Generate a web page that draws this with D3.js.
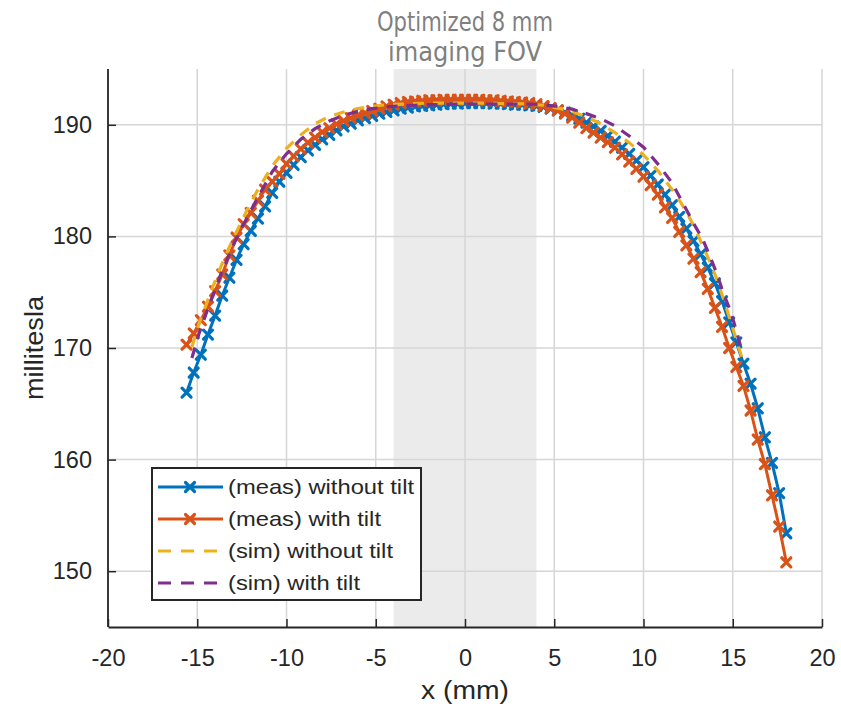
<!DOCTYPE html>
<html><head><meta charset="utf-8">
<script src="https://cdn.jsdelivr.net/npm/d3@7"></script>
<style>body{margin:0;background:#fff}svg{display:block}</style>
</head><body><div id="chart"></div>
<script>
// ---- data ----
const xMeas = [-15.6,-15.2,-14.8,-14.4,-14.0,-13.6,-13.2,-12.8,-12.4,-12.0,
  -11.6,-11.2,-10.8,-10.4,-10.0,-9.6,-9.2,-8.8,-8.4,-8.0,
  -7.6,-7.2,-6.8,-6.4,-6.0,-5.6,-5.2,-4.8,-4.4,-4.0,
  -3.6,-3.2,-2.8,-2.4,-2.0,-1.6,-1.2,-0.8,-0.4,0.0,
  0.4,0.8,1.2,1.6,2.0,2.4,2.8,3.2,3.6,4.0,
  4.4,4.8,5.2,5.6,6.0,6.4,6.8,7.2,7.6,8.0,
  8.4,8.8,9.2,9.6,10.0,10.4,10.8,11.2,11.6,12.0,
  12.4,12.8,13.2,13.6,14.0,14.4,14.8,15.2,15.6,16.0,
  16.4,16.8,17.2,17.6,18.0];
const measWithoutTilt = [166.0,167.8,169.4,171.2,172.9,174.7,176.3,177.9,179.3,180.5,
  181.6,182.7,183.9,184.9,185.7,186.4,187.1,187.7,188.2,188.7,
  189.1,189.5,189.85,190.1,190.4,190.6,190.8,191.0,191.15,191.3,
  191.45,191.55,191.65,191.7,191.75,191.8,191.85,191.9,191.9,191.95,
  191.95,191.95,191.95,191.9,191.9,191.85,191.8,191.8,191.75,191.7,
  191.6,191.45,191.3,191.1,190.85,190.55,190.2,189.85,189.45,189.0,
  188.5,187.95,187.4,186.8,186.2,185.45,184.65,183.75,182.8,181.75,
  180.7,179.6,178.4,177.2,175.8,174.2,172.3,170.5,168.6,166.8,
  164.6,162.0,159.7,157.0,153.4];
const measWithTilt = [170.3,171.3,172.5,173.7,175.1,176.6,178.3,179.9,181.1,182.1,
  183.2,184.2,184.9,185.6,186.5,187.2,187.85,188.4,188.85,189.35,
  189.7,190.05,190.35,190.6,190.85,191.05,191.25,191.45,191.65,191.8,
  191.95,192.05,192.1,192.15,192.2,192.2,192.25,192.25,192.25,192.25,
  192.25,192.25,192.2,192.2,192.15,192.1,192.05,192.0,191.95,191.85,
  191.7,191.5,191.3,191.0,190.65,190.2,189.7,189.3,188.85,188.45,
  187.95,187.35,186.7,186.05,185.35,184.6,183.75,182.6,181.65,180.4,
  179.2,178.0,176.8,175.3,173.6,171.9,170.0,168.3,166.6,164.4,
  161.8,159.6,156.8,154.0,150.8];
const xSim = [-15.3,-14.9,-14.5,-14.1,-13.7,-13.3,-12.9,-12.5,-12.1,
  -11.6,-10.8,-10.0,-9.2,-8.4,-7.6,-6.8,-6.0,-5.2,-4.4,-3.6,-2.8,-2.0,-1.2,-0.4,
  0.4,1.2,2.0,2.8,3.6,4.4,5.2,6.0,6.8,7.6,8.4,9.2,10.0,10.8,11.6,
  12.1,12.5,12.9,13.3,13.7,14.1,14.5,14.9,15.3,15.5];
const simWithoutTilt = [170.1,172.2,173.9,175.6,177.2,178.7,180.1,181.4,182.7,
  184.2,186.3,187.9,189.1,190.1,190.75,191.15,191.45,191.65,191.8,191.85,191.9,191.95,191.95,191.95,
  191.95,191.95,191.9,191.9,191.85,191.75,191.5,191.2,190.7,190.1,189.3,188.4,187.3,185.9,184.2,
  183.0,181.9,180.7,179.2,177.8,176.2,174.3,172.3,170.2,169.2];
const simWithTilt = [169.1,171.3,173.1,174.8,176.5,178.0,179.5,180.8,182.0,
  183.5,185.8,187.4,188.7,189.65,190.35,190.85,191.2,191.45,191.6,191.7,191.75,191.8,191.8,191.85,
  191.85,191.85,191.85,191.85,191.85,191.8,191.65,191.4,191.0,190.55,189.9,189.0,188.0,186.5,184.8,
  183.3,182.1,180.9,179.8,178.3,176.7,174.8,173.2,171.0,169.8];
const seriesNames = ["(meas) without tilt","(meas) with tilt","(sim) without tilt","(sim) with tilt"];
const seriesColors = ["#0072BD","#D95319","#EDB120","#7E2F8E"];
const xTicks = [-20,-15,-10,-5,0,5,10,15,20];
const yTicks = [150,160,170,180,190];
const fovRange = [-4,4];
const annotationLines = ["Optimized 8 mm","imaging FOV"];
const xLabel = "x (mm)";
const yLabel = "millitesla";

// ---- layout ----
const W = 841, H = 709;
const L = 108, T = 69, R = 822, B = 627;
const svg = d3.select("#chart").append("svg").attr("width", W).attr("height", H);
const x = d3.scaleLinear().domain([-20,20]).range([L,R]);
const y = d3.scaleLinear().domain([145,195]).range([B,T]);
const font = "Liberation Sans, Arial, Helvetica, sans-serif";
const ink = "#262626";

// shaded FOV
svg.append("rect").attr("x", x(fovRange[0])).attr("y", T)
  .attr("width", x(fovRange[1]) - x(fovRange[0])).attr("height", B - T)
  .attr("fill", "#ebebeb");

// grid
const grid = svg.append("g").attr("stroke", "#d6d6d6").attr("stroke-width", 1.5);
xTicks.forEach(t => grid.append("line").attr("x1", x(t)).attr("x2", x(t)).attr("y1", T).attr("y2", B));
yTicks.forEach(t => grid.append("line").attr("x1", L).attr("x2", R).attr("y1", y(t)).attr("y2", y(t)));

// axes
const fmt = d => String(d);
const xAxis = d3.axisBottom(x).tickValues(xTicks).tickFormat(fmt).tickSizeInner(-8).tickSizeOuter(0).tickPadding(22);
const yAxis = d3.axisLeft(y).tickValues(yTicks).tickFormat(fmt).tickSizeInner(-8).tickSizeOuter(0).tickPadding(16);
const gx = svg.append("g").attr("transform", `translate(0,${B})`).call(xAxis);
const gy = svg.append("g").attr("transform", `translate(${L},0)`).call(yAxis);
[gx, gy].forEach(g => {
  g.select(".domain").attr("stroke", ink).attr("stroke-width", 1.8);
  g.selectAll(".tick line").attr("stroke", ink).attr("stroke-width", 1.5);
  g.selectAll(".tick text").attr("fill", ink).attr("font-family", font).attr("font-size", 23.5);
});
gy.select(".domain").attr("d", `M0,${B}V${T}`);

// axis labels
svg.append("text").attr("x", (L+R)/2).attr("y", 699).attr("text-anchor", "middle")
  .attr("font-family", font).attr("font-size", 25).attr("fill", ink)
  .attr("textLength", 88).attr("lengthAdjust", "spacingAndGlyphs").text(xLabel);
svg.append("text").attr("transform", `translate(43,${(T+B)/2}) rotate(-90)`).attr("text-anchor", "middle")
  .attr("font-family", font).attr("font-size", 25).attr("fill", ink)
  .attr("textLength", 104).attr("lengthAdjust", "spacingAndGlyphs").text(yLabel);

// annotation
const annWidths = [176, 154];
annotationLines.forEach((s, i) => {
  svg.append("text").attr("x", x(0)).attr("y", 31 + i*30).attr("text-anchor", "middle")
    .attr("font-family", "'Liberation Sans Narrow', 'DejaVu Sans Condensed', sans-serif")
    .attr("font-size", 26).attr("fill", "#7f7f7f")
    .attr("textLength", annWidths[i]).attr("lengthAdjust", "spacingAndGlyphs").text(s);
});

// series
const line = d3.line().x(d => x(d[0])).y(d => y(d[1]));
const markerPath = "M-4.5,-4.5L4.5,4.5M-4.5,4.5L4.5,-4.5";
function drawMeas(xs, ys, color) {
  const pts = xs.map((v, i) => [v, ys[i]]);
  svg.append("path").datum(pts).attr("d", line).attr("fill", "none")
    .attr("stroke", color).attr("stroke-width", 3).attr("stroke-linejoin", "round");
  svg.append("g").selectAll("path").data(pts).join("path")
    .attr("transform", d => `translate(${x(d[0])},${y(d[1])})`)
    .attr("d", markerPath).attr("stroke", color).attr("stroke-width", 3.2)
    .attr("stroke-linecap", "round").attr("fill", "none");
}
function drawSim(xs, ys, color) {
  const pts = xs.map((v, i) => [v, ys[i]]);
  svg.append("path").datum(pts).attr("d", line).attr("fill", "none")
    .attr("stroke", color).attr("stroke-width", 3.2).attr("stroke-dasharray", "11,9");
}
drawMeas(xMeas, measWithoutTilt, seriesColors[0]);
drawMeas(xMeas, measWithTilt, seriesColors[1]);
drawSim(xSim, simWithoutTilt, seriesColors[2]);
drawSim(xSim, simWithTilt, seriesColors[3]);

// legend
const lg = svg.append("g");
lg.append("rect").attr("x", 152).attr("y", 468).attr("width", 269).attr("height", 132)
  .attr("fill", "#fff").attr("stroke", ink).attr("stroke-width", 2);
const rowY = [487, 519, 551, 583];
const legWidths = [186, 153, 165, 132];
seriesNames.forEach((name, i) => {
  const yy = rowY[i];
  const ln = lg.append("line").attr("x1", 158).attr("x2", 223).attr("y1", yy).attr("y2", yy)
    .attr("stroke", seriesColors[i]).attr("stroke-width", 3);
  if (i >= 2) ln.attr("stroke-dasharray", "13,10");
  else lg.append("path").attr("transform", `translate(190,${yy})`).attr("d", markerPath)
    .attr("stroke", seriesColors[i]).attr("stroke-width", 3.2).attr("stroke-linecap", "round");
  lg.append("text").attr("x", 228).attr("y", yy).attr("dy", "0.35em")
    .attr("font-family", font).attr("font-size", 21).attr("fill", ink)
    .attr("textLength", legWidths[i]).attr("lengthAdjust", "spacingAndGlyphs").text(name);
});
</script>
</body></html>
